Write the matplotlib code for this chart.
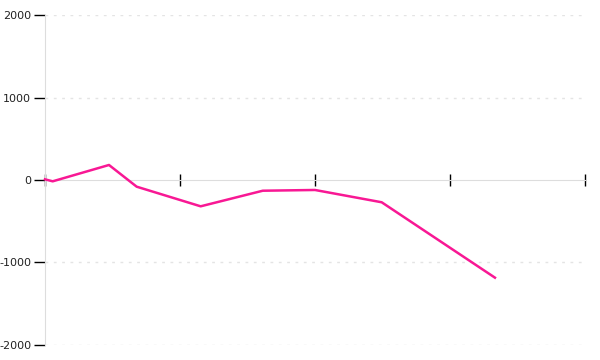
import matplotlib
matplotlib.use("Agg")
import matplotlib.pyplot as plt

# positions along the x axis (ticks at 0..4 are unlabeled)
x_vals = [0.0, 0.057, 0.474, 0.679, 1.153, 1.613, 2.0, 2.494, 3.333]
y_vals = [8, -16, 182, -81, -319, -130, -121, -270, -1184]
y_ticks = [-2000, -1000, 0, 1000, 2000]
x_ticks = [0, 1, 2, 3, 4]

fig = plt.figure(figsize=(6, 3.6), dpi=100)
ax = fig.add_axes([0.075, 0.0417, 0.9, 0.9166])

ax.plot(x_vals, y_vals, color="#f81894", linewidth=1.8,
        solid_joinstyle="round", clip_on=False, zorder=3)

ax.set_xlim(0, 4)
ax.set_ylim(-2000, 2000)
ax.set_yticks(y_ticks)
ax.set_yticklabels([str(v) for v in y_ticks])
ax.set_xticks(x_ticks)
ax.set_xticklabels([])

# dotted horizontal grid
for v in y_ticks:
    if v != 0:
        ax.axhline(v, color="#e4e4e4", linestyle=(0, (2, 4)), linewidth=1, zorder=0)

for side in ("top", "right"):
    ax.spines[side].set_visible(False)
ax.spines["left"].set_color("#dddddd")
ax.spines["bottom"].set_position(("data", 0))
ax.spines["bottom"].set_color("#dddddd")

ax.tick_params(axis="y", direction="out", length=8, width=1, color="black",
               labelsize=8, pad=2, labelcolor="#222222")
ax.tick_params(axis="x", direction="inout", length=9, width=1, color="black")

fig.savefig("out.png", dpi=100)
